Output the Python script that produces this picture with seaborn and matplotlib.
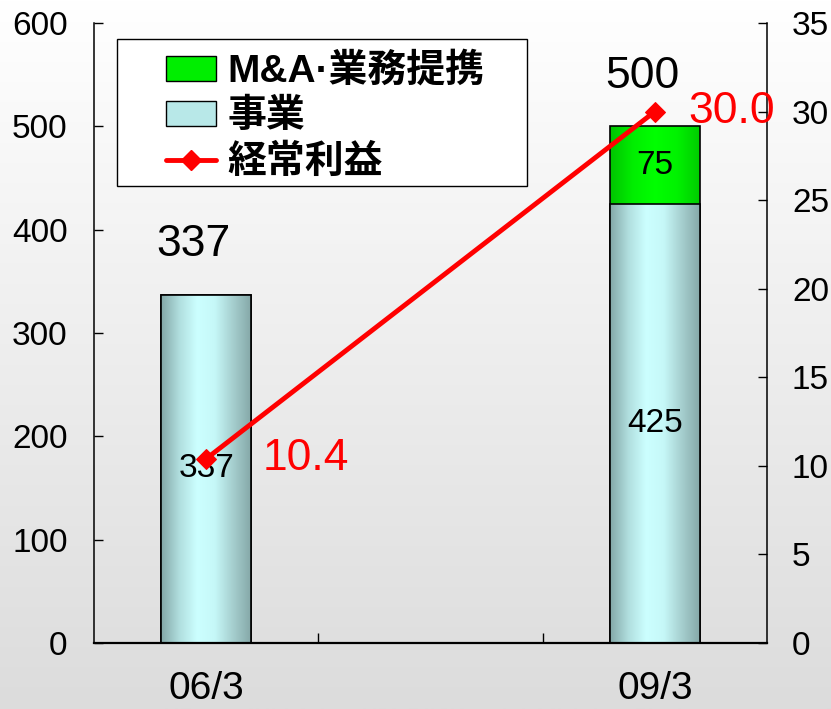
import numpy as np
import pandas as pd
import matplotlib
matplotlib.use("Agg")
import matplotlib.pyplot as plt
import seaborn as sns
from matplotlib.colors import LinearSegmentedColormap
from matplotlib.patches import Patch, Rectangle
from matplotlib.lines import Line2D

# ------------------------------------------------------------
# data
# ------------------------------------------------------------
categories = ["06/3", "", "09/3"]
business = [337, np.nan, 425]      # 事業
ma_alliance = [0, np.nan, 75]      # M&A・業務提携
profit = [10.4, np.nan, 30.0]      # 経常利益 (right axis)

series_labels = ["M&A·業務提携", "事業", "経常利益"]

totals = np.array(business) + np.array(ma_alliance)

df = pd.DataFrame({
    "period": categories,
    "business": business,
    "total": totals,
    "profit": profit,
})

# label offsets for the red profit values (points)
profit_label_dx = [72, 0, 55]

# ------------------------------------------------------------
# style
# ------------------------------------------------------------
sns.set_style("white")
plt.rcParams["font.family"] = ["Liberation Sans", "Noto Sans CJK JP"]
plt.rcParams["text.color"] = "black"
plt.rcParams["xtick.color"] = "black"
plt.rcParams["ytick.color"] = "black"
plt.rcParams["axes.labelcolor"] = "black"

cyan_cmap = LinearSegmentedColormap.from_list(
    "cyan", ["#84a8a8", "#b0dede", "#ccffff", "#c6f8f8", "#a6cfcf", "#86a9a9"])
green_cmap = LinearSegmentedColormap.from_list(
    "green", ["#00c400", "#00ee00", "#00ff00", "#00f200", "#00cc00"])
bg_cmap = LinearSegmentedColormap.from_list("bg", ["#ffffff", "#dcdcdc"])

fig = plt.figure(figsize=(8.31, 7.09), dpi=100)

# gradient background
bg = fig.add_axes([0, 0, 1, 1], zorder=-10)
bg.imshow(np.linspace(0, 1, 256).reshape(-1, 1), cmap=bg_cmap,
          aspect="auto", extent=[0, 1, 0, 1])
bg.axis("off")

ax = fig.add_axes([94 / 831, 1 - 643 / 709, (767 - 94) / 831, (643 - 23) / 709])
ax.set_facecolor("none")

# stacked bars: total (green) first, then 事業 drawn over it
sns.barplot(data=df, x="period", y="total", order=categories, color="#00ff00",
            width=0.4, edgecolor="black", linewidth=1.2, errorbar=None, ax=ax)
n_green = len(ax.patches)
sns.barplot(data=df, x="period", y="business", order=categories, color="#ccffff",
            width=0.4, edgecolor="black", linewidth=1.2, errorbar=None, ax=ax)


def paint_gradient(patch, cmap, z):
    h = patch.get_height()
    if not np.isfinite(h) or h == 0:
        return
    x0, y0, w = patch.get_x(), patch.get_y(), patch.get_width()
    im = ax.imshow(np.linspace(0, 1, 128).reshape(1, -1), cmap=cmap,
                   aspect="auto", extent=[x0, x0 + w, y0, y0 + h],
                   zorder=z, interpolation="bicubic")
    im.set_clip_path(patch)
    patch.set_facecolor("none")
    patch.set_zorder(z + 0.05)


for k, p in enumerate(ax.patches):
    if k < n_green:
        paint_gradient(p, green_cmap, 2.0)
    else:
        paint_gradient(p, cyan_cmap, 2.1)

ax.set_xlim(-0.5, len(categories) - 0.5)
ax.set_ylim(0, 600)
ax.set_yticks(range(0, 601, 100))
ax.set_xticks(range(len(categories)))
ax.set_xticklabels(categories)
ax.set_xticks([0.5, 1.5], minor=True)
ax.set_xlabel("")
ax.set_ylabel("")
ax.tick_params(axis="y", direction="in", length=6.5, width=1, labelsize=24,
               pad=19, left=True)
ax.tick_params(axis="x", which="major", length=0, labelsize=28, pad=20)
ax.tick_params(axis="x", which="minor", direction="in", length=7, width=1,
               bottom=True)
for side in ["top", "right"]:
    ax.spines[side].set_visible(False)
ax.spines["left"].set_color("black")
ax.spines["left"].set_linewidth(1.1)
ax.spines["bottom"].set_color("black")
ax.spines["bottom"].set_linewidth(1.6)

# value labels on bars
for i, (b, m, t) in enumerate(zip(business, ma_alliance, totals)):
    if not np.isfinite(t):
        continue
    ax.annotate(f"{t:.0f}", (i, t), xytext=(-9, 36), textcoords="offset points",
                ha="center", va="center", fontsize=32, zorder=6)
    ax.text(i, b / 2, f"{b:.0f}", ha="center", va="center", fontsize=24, zorder=6)
    if m > 0:
        ax.text(i, b + m / 2, f"{m:.0f}", ha="center", va="center",
                fontsize=24, zorder=6)

# profit line on right axis
ax2 = ax.twinx()
x_idx = [i for i, v in enumerate(profit) if np.isfinite(v)]
y_vals = [profit[i] for i in x_idx]
sns.lineplot(x=x_idx, y=y_vals, ax=ax2, color="#ff0000", linewidth=3.5,
             marker="D", markersize=10, markeredgecolor="#ff0000", zorder=5)
ax2.set_ylim(0, 35)
ax2.set_yticks(range(0, 36, 5))
ax2.set_ylabel("")
ax2.tick_params(axis="y", direction="in", length=6.5, width=1, labelsize=24,
                pad=18, right=True)
for side in ["top", "left", "bottom"]:
    ax2.spines[side].set_visible(False)
ax2.spines["right"].set_color("black")
ax2.spines["right"].set_linewidth(1.1)

for i in x_idx:
    ax2.annotate(f"{profit[i]:.1f}", (i, profit[i]), xytext=(profit_label_dx[i], 0),
                 textcoords="offset points", ha="center", va="center",
                 fontsize=32, color="#ff0000", zorder=6)

# legend with a fixed frame like the original
frame = Rectangle((117 / 831, 1 - 186 / 709), (527 - 117) / 831, 147 / 709,
                  transform=fig.transFigure, facecolor="white", edgecolor="black",
                  linewidth=1.0, zorder=4, clip_on=False)
ax2.add_patch(frame)
handles = [
    Patch(facecolor="#00ee00", edgecolor="black", linewidth=1),
    Patch(facecolor="#b8e8e8", edgecolor="black", linewidth=1),
    Line2D([], [], color="#ff0000", linewidth=3.5, marker="D", markersize=10),
]
leg = ax2.legend(handles, series_labels, loc="upper left",
                 bbox_to_anchor=(166 / 831, 1 - 53 / 709),
                 bbox_transform=fig.transFigure, borderaxespad=0, borderpad=0,
                 frameon=False, prop=dict(size=28, weight="bold"),
                 handlelength=1.29, handleheight=0.6, handletextpad=0.28,
                 labelspacing=0.24)
leg.set_zorder(5)

fig.savefig("out.png", dpi=100)
